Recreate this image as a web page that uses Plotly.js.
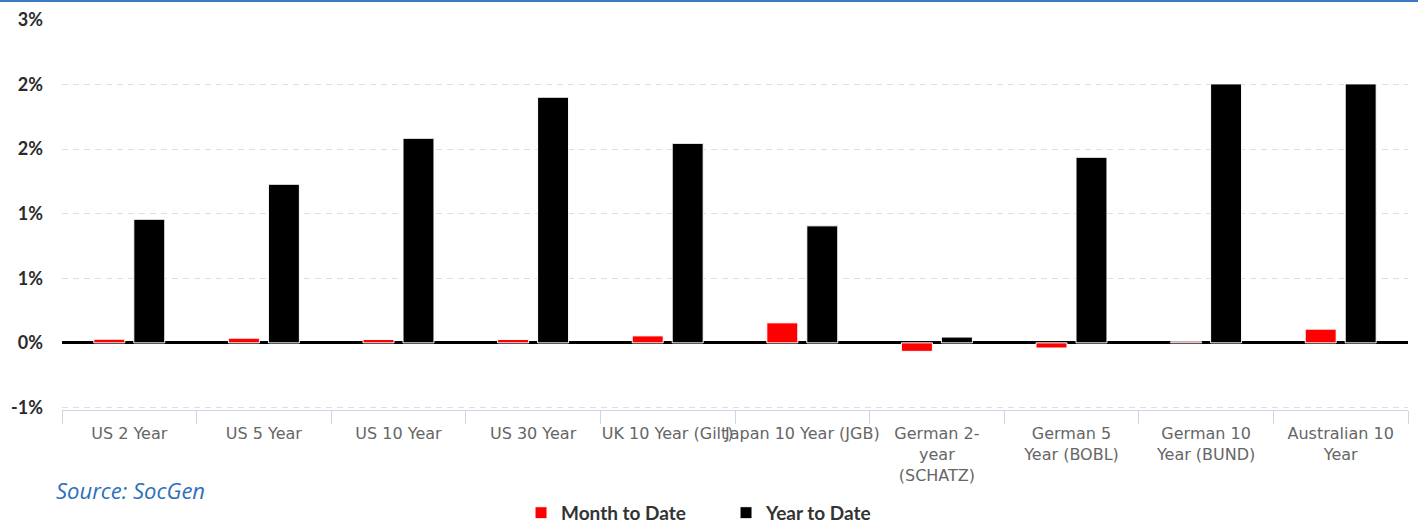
<!DOCTYPE html>
<html>
<head>
<meta charset="utf-8">
<script src="https://cdn.plot.ly/plotly-3.0.1.min.js"></script>
<style>
  html, body { margin: 0; padding: 0; background: #fff; overflow: hidden; }
  #wrap { width: 1418px; height: 521px; border-top: 2px solid #3a78c3; overflow: hidden; }
  #chart { width: 1418px; height: 540px; }
</style>
</head>
<body>
<div id="wrap"><div id="chart"></div></div>
<script>
const categories = [
  "US 2 Year", "US 5 Year", "US 10 Year", "US 30 Year", "UK 10 Year (Gilt)",
  "Japan 10 Year (JGB)", "German 2-<br>year<br>(SCHATZ)", "German 5<br>Year (BOBL)",
  "German 10<br>Year (BUND)", "Australian 10<br>Year"
];
const monthToDate = [0.028, 0.036, 0.026, 0.026, 0.054, 0.155, -0.066, -0.04, 0.008, 0.106];
const yearToDate  = [0.957, 1.228, 1.584, 1.902, 1.545, 0.906, 0.045, 1.437, 2.005, 2.005];
const seriesNames = ["Month to Date", "Year to Date"];
const yTickVals  = [-0.5, 0, 0.5, 1, 1.5, 2, 2.5];
const yTickText  = ["-1%", "0%", "1%", "1%", "2%", "2%", "3%"];
const sourceText = "Source: SocGen";

const barLine = { color: "#ffffff", width: 1 };
const traces = [
  { type: "bar", name: seriesNames[0], x: categories, y: monthToDate,
    marker: { color: "#ff0000", line: barLine } },
  { type: "bar", name: seriesNames[1], x: categories, y: yearToDate,
    marker: { color: "#000000", line: barLine } }
];

const layout = {
  width: 1418, height: 540,
  margin: { l: 62, r: 10, t: 18, b: 132 },
  paper_bgcolor: "#ffffff", plot_bgcolor: "#ffffff",
  barmode: "group", bargap: 0.406, bargroupgap: 0.225,
  showlegend: true,
  legend: {
    orientation: "h", xref: "container", yref: "container",
    x: 0.512, xanchor: "center", y: 0.054, yanchor: "middle",
    font: { family: "Lato", size: 19, color: "#333333", weight: "bold" },
    itemwidth: 30, traceorder: "normal", entrywidth: 160, entrywidthmode: "pixels"
  },
  xaxis: {
    type: "category", tickangle: 0, tickson: "boundaries",
    ticks: "outside", ticklen: 13, tickcolor: "#ccd6eb", tickwidth: 1,
    ticklabelstandoff: 9,
    showline: true, linecolor: "#ccd6eb", linewidth: 1,
    showgrid: false, zeroline: false,
    tickfont: { family: "DejaVu Sans", size: 16, color: "#666666" }
  },
  yaxis: {
    range: [-0.52, 2.5], tickvals: yTickVals, ticktext: yTickText,
    ticks: "", ticklabelstandoff: 18,
    showgrid: true, gridcolor: "#dedede", gridwidth: 1, griddash: "6px,5px",
    zeroline: true, zerolinecolor: "#000000", zerolinewidth: 3,
    showline: false,
    tickfont: { family: "Lato", size: 18, color: "#2b2b2b", weight: "bold" }
  },
  annotations: [{
    text: sourceText, xref: "paper", yref: "paper",
    x: -0.006, y: -0.205, xanchor: "left", yanchor: "middle", showarrow: false,
    font: { family: "Open Sans", size: 22, color: "#2f6fba", style: "italic" }
  }]
};

Plotly.newPlot("chart", traces, layout, { staticPlot: true, displayModeBar: false });
</script>
</body>
</html>
